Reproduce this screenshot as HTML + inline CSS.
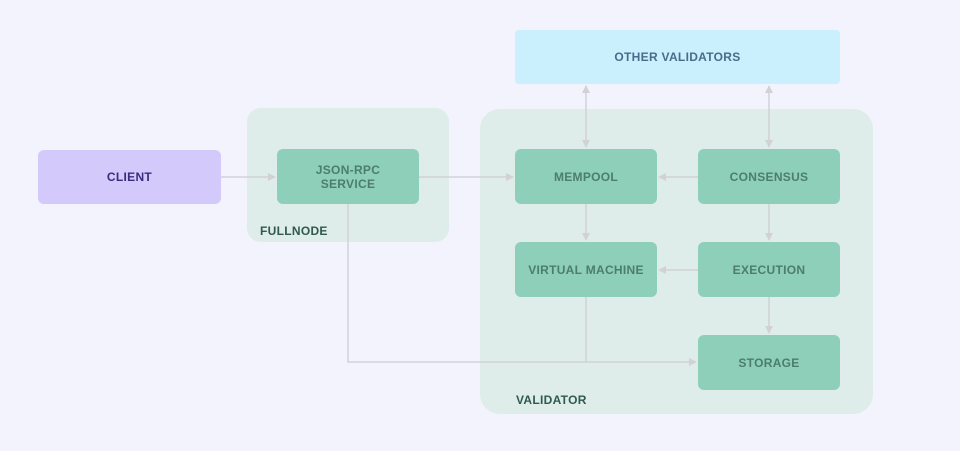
<!DOCTYPE html>
<html><head><style>
body{margin:0;width:960px;height:451px;background:#f2f3fc;position:relative;overflow:hidden;font-family:"Liberation Sans",sans-serif;}
.b{position:absolute;display:flex;align-items:center;justify-content:center;text-align:center;font-size:12px;font-weight:bold;border-radius:6px;line-height:14px;letter-spacing:.3px}
.n{background:#8dcfb9;color:#4c7d6d}
.g{position:absolute;background:#deecea;border-radius:14px}
.l{position:absolute;font-size:12px;font-weight:bold;color:#2f5a4c;letter-spacing:.3px}
svg{position:absolute;left:0;top:0}
</style></head><body>
<div class="g" style="left:247px;top:108px;width:202px;height:134px"></div>
<div class="g" style="left:480px;top:109px;width:393px;height:305px;border-radius:20px"></div>
<div class="l" style="left:260px;top:224px">FULLNODE</div>
<div class="l" style="left:516px;top:393px">VALIDATOR</div>
<div class="b" style="left:38px;top:150px;width:183px;height:54px;background:#d3c9fb;color:#3b2c7c">CLIENT</div>
<div class="b" style="left:515px;top:30px;width:325px;height:54px;background:#c9f0fc;color:#4a6b8a;border-radius:4px">OTHER VALIDATORS</div>
<div class="b n" style="left:277px;top:149px;width:142px;height:55px">JSON-RPC<br>SERVICE</div>
<div class="b n" style="left:515px;top:149px;width:142px;height:55px">MEMPOOL</div>
<div class="b n" style="left:698px;top:149px;width:142px;height:55px">CONSENSUS</div>
<div class="b n" style="left:515px;top:242px;width:142px;height:55px">VIRTUAL MACHINE</div>
<div class="b n" style="left:698px;top:242px;width:142px;height:55px">EXECUTION</div>
<div class="b n" style="left:698px;top:335px;width:142px;height:55px">STORAGE</div>
<svg width="960" height="451" fill="none" stroke="#d2d2d6" stroke-width="1.5">
<defs><marker id="a" markerWidth="8" markerHeight="8" refX="7" refY="4" orient="auto" markerUnits="userSpaceOnUse"><path d="M0,0L8,4L0,8z" fill="#d2d2d6" stroke="none"/></marker></defs>
<line x1="221" y1="177" x2="275" y2="177" marker-end="url(#a)"/>
<line x1="419" y1="177" x2="513" y2="177" marker-end="url(#a)"/>
<line x1="698" y1="177" x2="659" y2="177" marker-end="url(#a)"/>
<line x1="698" y1="270" x2="659" y2="270" marker-end="url(#a)"/>
<line x1="586" y1="204" x2="586" y2="240" marker-end="url(#a)"/>
<line x1="769" y1="204" x2="769" y2="240" marker-end="url(#a)"/>
<line x1="769" y1="297" x2="769" y2="333" marker-end="url(#a)"/>
<line x1="586" y1="100" x2="586" y2="147" marker-end="url(#a)"/>
<line x1="586" y1="100" x2="586" y2="86" marker-end="url(#a)"/>
<line x1="769" y1="100" x2="769" y2="147" marker-end="url(#a)"/>
<line x1="769" y1="100" x2="769" y2="86" marker-end="url(#a)"/>
<polyline points="348,204 348,362 696,362" marker-end="url(#a)"/>
<line x1="586" y1="297" x2="586" y2="362"/>
</svg>
</body></html>
